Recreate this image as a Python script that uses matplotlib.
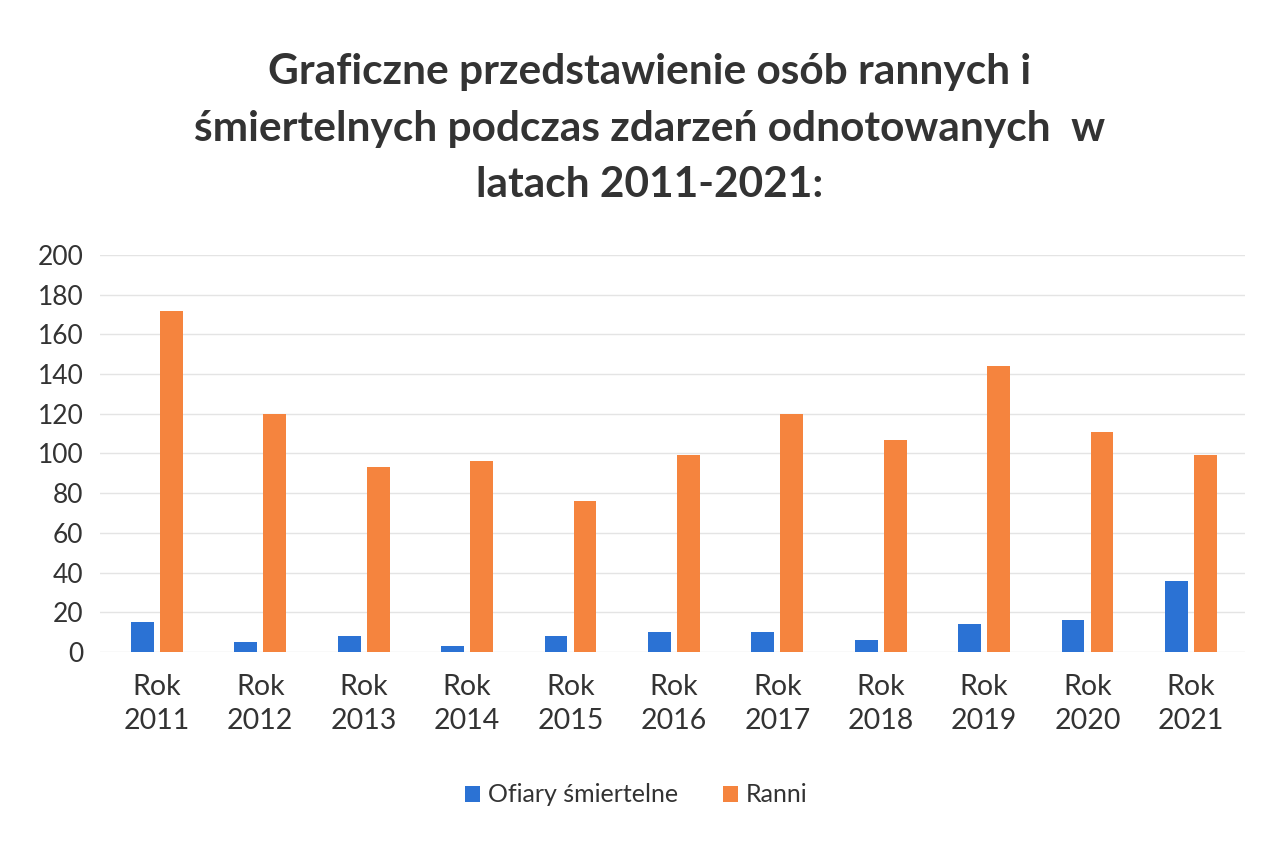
import matplotlib.pyplot as plt
import numpy as np

plt.rcParams['font.family'] = ['Lato', 'DejaVu Sans']

years = ["Rok\n2011", "Rok\n2012", "Rok\n2013", "Rok\n2014", "Rok\n2015", "Rok\n2016",
         "Rok\n2017", "Rok\n2018", "Rok\n2019", "Rok\n2020", "Rok\n2021"]
ofiary = [15, 5, 8, 3, 8, 10, 10, 6, 14, 16, 36]
ranni = [172, 120, 93, 96, 76, 99, 120, 107, 144, 111, 99]

x = np.arange(len(years))
w = 0.22

fig = plt.figure(figsize=(12.72, 8.43), dpi=100)
ax = fig.add_axes([0.0786, 0.2266, 0.9, 0.471])

ax.bar(x - 0.14, ofiary, w, color='#2b72d4', label='Ofiary śmiertelne', zorder=3)
ax.bar(x + 0.14, ranni, w, color='#f5843e', label='Ranni', zorder=3)

ax.set_ylim(0, 200)
ax.set_yticks(range(0, 201, 20))
ax.set_xlim(-0.55, len(years) - 0.48)
ax.set_xticks(x)
ax.set_xticklabels(years, fontsize=20.5, color='#333333', linespacing=1.35)
ax.tick_params(axis='y', labelsize=19, labelcolor='#333333', length=0, pad=12)
ax.tick_params(axis='x', length=0, pad=16)
ax.grid(axis='y', color='#e4e4e4', linewidth=1, zorder=0)
for s in ax.spines.values():
    s.set_visible(False)

fig.suptitle("Graficzne przedstawienie osób rannych i\nśmiertelnych podczas zdarzeń odnotowanych  w\nlatach 2011-2021:",
             x=0.511, y=0.937, va='top', fontsize=30.5, fontweight='bold', color='#333333',
             linespacing=1.6)

fig.legend(loc='center', bbox_to_anchor=(0.5, 0.057), ncol=2, frameon=False,
           fontsize=18, handlelength=0.6, handleheight=0.6, columnspacing=1.8, handletextpad=0.3,
           labelcolor='#333333')

fig.savefig('out.png', dpi=100)
